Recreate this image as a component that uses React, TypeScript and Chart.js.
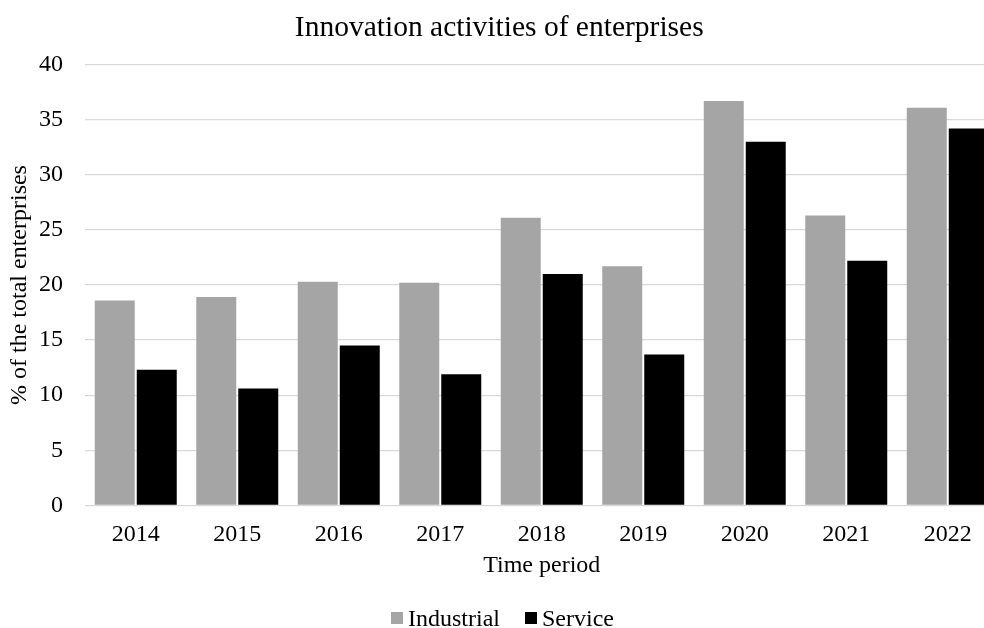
import React, { useEffect, useRef } from "react";
import { Chart, registerables } from "chart.js";

Chart.register(...registerables);

const categories = ["2014", "2015", "2016", "2017", "2018", "2019", "2020", "2021", "2022"];
const industrial = [18.6, 18.9, 20.3, 20.2, 26.1, 21.7, 36.7, 26.3, 36.1];
const service = [12.3, 10.6, 14.5, 11.9, 21.0, 13.7, 33.0, 22.2, 34.2];
const seriesNames = ["Industrial", "Service"];
const seriesColors = ["#A5A5A5", "#000000"];

const FONT = "'Liberation Serif', 'Times New Roman', serif";

export default function App() {
  const ref = useRef<HTMLCanvasElement | null>(null);

  useEffect(() => {
    if (!ref.current) return;
    const chart = new Chart(ref.current, {
      type: "bar",
      data: {
        labels: categories,
        datasets: [
          {
            label: seriesNames[0],
            data: industrial,
            backgroundColor: seriesColors[0],
            categoryPercentage: 0.8276,
            barPercentage: 0.952,
          },
          {
            label: seriesNames[1],
            data: service,
            backgroundColor: seriesColors[1],
            categoryPercentage: 0.8276,
            barPercentage: 0.952,
          },
        ],
      },
      options: {
        animation: false,
        responsive: false,
        maintainAspectRatio: false,
        layout: { padding: { left: 0, right: 5.5, top: 0, bottom: 47.4 } },
        plugins: {
          legend: { display: false },
          tooltip: { enabled: false },
          title: {
            display: true,
            text: "Innovation activities of enterprises",
            color: "#000",
            font: { family: FONT, size: 29.5, weight: "normal" },
            padding: { top: 11, bottom: 18.3 },
          },
        },
        scales: {
          x: {
            grid: { display: false, drawTicks: false },
            border: { display: false },
            ticks: { color: "#000", font: { family: FONT, size: 24 }, padding: 15 },
            title: {
              display: true,
              text: "Time period",
              color: "#000",
              font: { family: FONT, size: 24 },
              padding: { top: 0, bottom: 0 },
            },
            afterFit: (s: any) => {
              s.height = 75.3;
            },
          },
          y: {
            min: 0,
            max: 40,
            grid: { color: "#D9D9D9", lineWidth: 1.3, drawTicks: false },
            border: { display: false },
            ticks: { stepSize: 5, color: "#000", font: { family: FONT, size: 24 }, padding: 22 },
            title: {
              display: true,
              text: "% of the total enterprises",
              color: "#000",
              font: { family: FONT, size: 24 },
              padding: { top: 5.6, bottom: 0 },
            },
            afterFit: (s: any) => {
              s.width = 85;
            },
          },
        },
      },
    });
    return () => chart.destroy();
  }, []);

  return (
    <div
      style={{
        position: "fixed",
        left: 0,
        top: 0,
        width: 984,
        height: 628,
        overflow: "hidden",
        background: "#fff",
      }}
    >
      <canvas ref={ref} width={1004} height={628} style={{ display: "block", width: 1004, height: 628 }} />
      <div
        style={{
          position: "absolute",
          left: 391,
          top: 605.6,
          display: "flex",
          alignItems: "center",
          fontFamily: FONT,
          fontSize: 24,
          lineHeight: "24px",
          color: "#000",
        }}
      >
        {seriesNames.map((name, i) => (
          <div key={name} style={{ display: "flex", alignItems: "center", marginRight: i === 0 ? 25 : 0 }}>
            <span
              style={{
                display: "inline-block",
                width: 12,
                height: 12,
                background: seriesColors[i],
                marginRight: 5,
              }}
            />
            <span>{name}</span>
          </div>
        ))}
      </div>
    </div>
  );
}
